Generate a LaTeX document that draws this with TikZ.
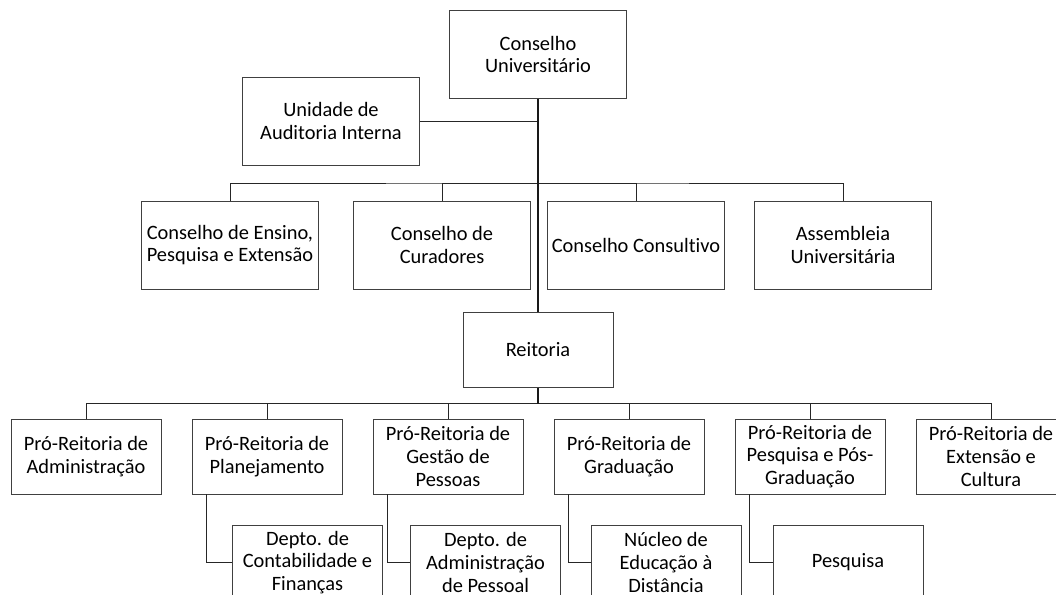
\documentclass[tikz,border=0pt]{standalone}
\usepackage{fontspec}
\setmainfont{Carlito}[Ligatures=NoCommon]
\begin{document}
\begin{tikzpicture}[x=1pt,y=-1pt,
  box/.style={draw=black!75,line width=0.9pt,fill=white,rectangle,align=center,inner sep=0pt,
    font=\fontsize{20.4}{22.6}\selectfont},
  big/.style={box,minimum width=177pt,minimum height=88pt},
  mid/.style={box,minimum width=150pt,minimum height=75pt},
  conn/.style={draw=black!85,line width=0.8pt},
  mainconn/.style={draw=black!90,line width=1.3pt}]
\useasboundingbox (0,0) rectangle (1056,594);
\begin{scope}
\clip (0,0) rectangle (1056,594);
% top
\node[big] (cu) at (538,54.5) {Conselho\\Universitário};
\node[big] (ua) at (331,121) {Unidade de\\Auditoria Interna};
% councils
\node[big] (c1) at (230,245) {Conselho de Ensino,\\Pesquisa e Extensão};
\node[big] (c2) at (442,245) {Conselho de\\Curadores};
\node[big] (c3) at (636,245) {Conselho Consultivo};
\node[big] (c4) at (843,245) {Assembleia\\Universitária};
% reitoria
\node[mid] (re) at (538,350) {Reitoria};
% pro-reitorias
\node[mid] (p1) at (86,456.5) {Pró-Reitoria de\\Administração};
\node[mid] (p2) at (267,456.5) {Pró-Reitoria de\\Planejamento};
\node[mid] (p3) at (448,456.5) {Pró-Reitoria de\\Gestão de\\Pessoas};
\node[mid] (p4) at (629,456.5) {Pró-Reitoria de\\Graduação};
\node[mid] (p5) at (810,456.5) {Pró-Reitoria de\\Pesquisa e Pós-\\Graduação};
\node[mid] (p6) at (991,456.5) {Pró-Reitoria de\\Extensão e\\Cultura};
% departments
\node[mid] (d1) at (307.5,562.5) {Depto. de\\Contabilidade e\\Finanças};
\node[mid] (d2) at (485.5,562.5) {Depto. de\\Administração\\de Pessoal};
\node[mid] (d3) at (666,562.5) {Núcleo de\\Educação à\\Distância};
\node[mid] (d4) at (848,562.5) {Pesquisa};
% connectors
\coordinate (ja) at (538,121);
\coordinate (jc) at (538,183);
\coordinate (jr) at (538,403.7);
\draw[conn] (c1.north) |- (jc) -| (c4.north);
\draw[conn] (c2.north) |- (jc);
\draw[conn] (c3.north) |- (jc);
\draw[conn] (ua.east) -- (ja);
\draw[mainconn] (cu.south) -- (re.north);
\draw[conn] (p1.north) |- (jr) -| (p6.north);
\foreach \p in {p2,p3,p4,p5}{\draw[conn] (\p.north) |- (jr);}
\draw[mainconn] (re.south) -- (jr);
\draw[conn] ([xshift=15pt]p2.south west) |- (d1.west);
\draw[conn] ([xshift=15pt]p3.south west) |- (d2.west);
\draw[conn] ([xshift=15pt]p4.south west) |- (d3.west);
\draw[conn] ([xshift=15pt]p5.south west) |- (d4.west);
\end{scope}
\end{tikzpicture}
\end{document}
